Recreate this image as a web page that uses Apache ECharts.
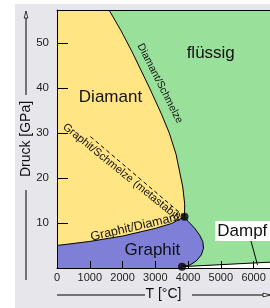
<!DOCTYPE html>
<html><head><meta charset="utf-8">
<script src="https://cdn.jsdelivr.net/npm/echarts@6/dist/echarts.min.js"></script>
<style>html,body{margin:0;padding:0;background:#fff}#c{width:270px;height:308px}</style>
</head><body><div id="c"></div>
<script>
// ---- Axis ranges / ticks ----
const T_MIN = 0, T_MAX = 6500, T_STEP = 1000;   // °C
const P_MIN = 0, P_MAX = 57.33, P_STEP = 10;    // GPa

// ---- Phase boundaries (T in °C, P in GPa) ----
// Graphit/Diamant
const gdT = [0, 1000, 2000, 3000, 3500, 3890];
const gdP = [5.0, 5.9, 7.1, 8.8, 9.9, 11.4];
// Diamant/Schmelze (from triple point upward)
const dmT = [3890, 3897, 3838, 3632, 3426, 3176, 2824, 2294, 1941, 1588];
const dmP = [11.4, 14.2, 18.0, 25.3, 30.0, 34.4, 40.0, 48.0, 52.9, 57.33];
// Graphit/Schmelze (from upper triple point down to lower one)
const glT = [3890, 4009, 4206, 4353, 4450, 4471, 4403, 4256, 4059, 3815];
const glP = [11.4, 10.3, 8.8, 7.3, 5.85, 4.4, 2.9, 1.6, 0.67, 0.3];
// Dampf boundary
const vapT = [3815, 6500];
const vapP = [0.3, 1.3];
// Graphit/Schmelze (metastabil), dashed
const metaT = [1020, 3890];
const metaP = [29.2, 11.4];
// Triple points
const tripleT = [3890, 3815];
const tripleP = [11.4, 0.3];
// Leader line of "Dampf" label
const leaderT = [5912, 6118];
const leaderP = [6.2, 0.7];

// ---- Texts ----
const regionNames = ['Diamant', 'flüssig', 'Graphit', 'Dampf'];
const lineNames = ['Diamant/Schmelze', 'Graphit/Schmelze (metastabil)', 'Graphit/Diamant'];
const axisNames = ['T [°C]', 'Druck [GPa]'];

// ---- helpers ----
const zip = (a, b) => a.map((v, i) => [v, b[i]]);
const FONT = '"Liberation Sans", Arial, sans-serif';
const C_GREEN = '#99e09a', C_YELLOW = '#ffe584', C_BLUE = '#7f7fd8';

const gd = zip(gdT, gdP), dm = zip(dmT, dmP), gl = zip(glT, glP), vap = zip(vapT, vapP);

const polyLiquid = [[T_MIN, P_MIN], [T_MAX, P_MIN], [T_MAX, P_MAX], [T_MIN, P_MAX]];
const polyDiamond = [[T_MIN, P_MAX]].concat(gd, dm.slice(1));
const polyGraphite = [[T_MIN, P_MIN]].concat(gd, gl.slice(1), [[glT[glT.length - 1], P_MIN]]);
const polyVapor = vap.concat([[T_MAX, P_MIN], [vapT[0], P_MIN]]);

function poly(pts, color, z) {
  return {
    type: 'custom', coordinateSystem: 'cartesian2d', silent: true, z: z,
    data: [[pts[0][0], pts[0][1]]], encode: { x: 0, y: 1 },
    renderItem: (params, api) => ({
      type: 'polygon',
      shape: { points: pts.map(p => api.coord(p)) },
      style: { fill: color }
    })
  };
}
function line(pts, z, dashed) {
  return {
    type: 'line', data: pts, showSymbol: false, silent: true, z: z, animation: false,
    lineStyle: { color: '#000', width: 1, type: dashed ? [4, 3] : 'solid' }
  };
}

// label placements (data coordinates), separate from data
const labelCfg = [
  { text: regionNames[0], at: [1632, 38.0], rot: 0, size: 17 },
  { text: regionNames[1], at: [4691, 47.6], rot: 0, size: 17 },
  { text: regionNames[2], at: [2912, 3.9], rot: 0, size: 17 },
  { text: regionNames[3], at: [4830, 8.2], rot: 0, size: 17, align: 'left', bg: '#fff' },
  { text: lineNames[0], at: [3140, 41.0], rot: -63, size: 10.5 },
  { text: lineNames[1], at: [1970, 21.3], rot: -39, size: 11 },
  { text: lineNames[2], at: [2382, 9.1], rot: 13, size: 12.5 }
];

const chart = echarts.init(document.getElementById('c'), null, { renderer: 'canvas' });
chart.setOption({
  animation: false,
  backgroundColor: '#fff',
  grid: { left: 57, top: 10, width: (T_MAX - T_MIN) * 0.034, height: 258, containLabel: false },
  xAxis: [{
    type: 'value', min: T_MIN, max: T_MAX, interval: T_STEP, z: 10,
    axisLine: { show: true, lineStyle: { color: '#000', width: 1 } },
    axisTick: { show: true, inside: true, length: 7, lineStyle: { color: '#000' } },
    axisLabel: { color: '#222', fontSize: 11, fontFamily: FONT, margin: 4, showMaxLabel: false, formatter: v => String(v) },
    splitLine: { show: false },
    name: axisNames[0], nameLocation: 'middle', nameGap: 19, nameMoveOverlap: false,
    nameTextStyle: { color: '#111', fontSize: 14, fontFamily: FONT }
  }, {
    type: 'value', position: 'top', min: T_MIN, max: T_MAX, z: 10,
    axisLine: { show: true, lineStyle: { color: '#000', width: 1 } },
    axisTick: { show: false }, axisLabel: { show: false }, splitLine: { show: false }
  }],
  yAxis: {
    type: 'value', min: P_MIN, max: P_MAX, interval: P_STEP, z: 10,
    axisLine: { show: true, lineStyle: { color: '#000', width: 1 } },
    axisTick: { show: true, inside: true, length: 11, lineStyle: { color: '#000' } },
    axisLabel: { color: '#222', fontSize: 11.5, fontFamily: FONT, margin: 8, showMinLabel: false, showMaxLabel: false, formatter: v => String(v) },
    splitLine: { show: false },
    name: axisNames[1], nameLocation: 'middle', nameGap: 24, nameMoveOverlap: false,
    nameTextStyle: { color: '#111', fontSize: 14, fontFamily: FONT }
  },
  graphic: [
    { type: 'rect', z: -5, silent: true, shape: { x: 15, y: 4, width: 255, height: 304 }, style: { fill: '#e7e6ea' } },
    { type: 'line', z: 1, shape: { x1: 26, y1: 17, x2: 26, y2: 95 }, style: { stroke: '#000', lineWidth: 1 } },
    { type: 'line', z: 1, shape: { x1: 26, y1: 190, x2: 26, y2: 280 }, style: { stroke: '#000', lineWidth: 1 } },
    { type: 'polygon', z: 1, shape: { points: [[26, 11], [24.2, 18], [27.8, 18]] }, style: { fill: '#fff', stroke: '#000', lineWidth: 0.8 } },
    { type: 'line', z: 1, shape: { x1: 57, y1: 295, x2: 145, y2: 295 }, style: { stroke: '#000', lineWidth: 1 } },
    { type: 'line', z: 1, shape: { x1: 192, y1: 295, x2: 263, y2: 295 }, style: { stroke: '#000', lineWidth: 1 } },
    { type: 'polygon', z: 1, shape: { points: [[271, 295], [263, 293.2], [263, 296.8]] }, style: { fill: '#fff', stroke: '#000', lineWidth: 0.8 } }
  ],
  series: [
    poly(polyLiquid, C_GREEN, 1),
    poly(polyDiamond, C_YELLOW, 2),
    poly(polyGraphite, C_BLUE, 2),
    poly(polyVapor, '#ffffff', 2),
    line(gd, 4), line(dm, 4), line(gl, 4), line(vap, 4),
    line(zip(metaT, metaP), 4, true),
    line(zip(leaderT, leaderP), 4),
    {
      type: 'scatter', data: zip(tripleT, tripleP), symbolSize: 8, z: 6, silent: true,
      itemStyle: { color: '#000' }
    },
    {
      type: 'custom', coordinateSystem: 'cartesian2d', silent: true, z: 7,
      data: labelCfg.map(l => l.at), encode: { x: 0, y: 1 },
      renderItem: (params, api) => {
        const L = labelCfg[params.dataIndex];
        const p = api.coord(L.at);
        return {
          type: 'text', x: p[0], y: p[1], rotation: L.rot * Math.PI / 180,
          style: {
            text: L.text, fontSize: L.size, fontFamily: FONT, fill: '#111',
            align: L.align || 'center', verticalAlign: 'middle',
            backgroundColor: L.bg, padding: L.bg ? [2, 6, 1, 2] : 0
          }
        };
      }
    }
  ]
});
</script></body></html>
